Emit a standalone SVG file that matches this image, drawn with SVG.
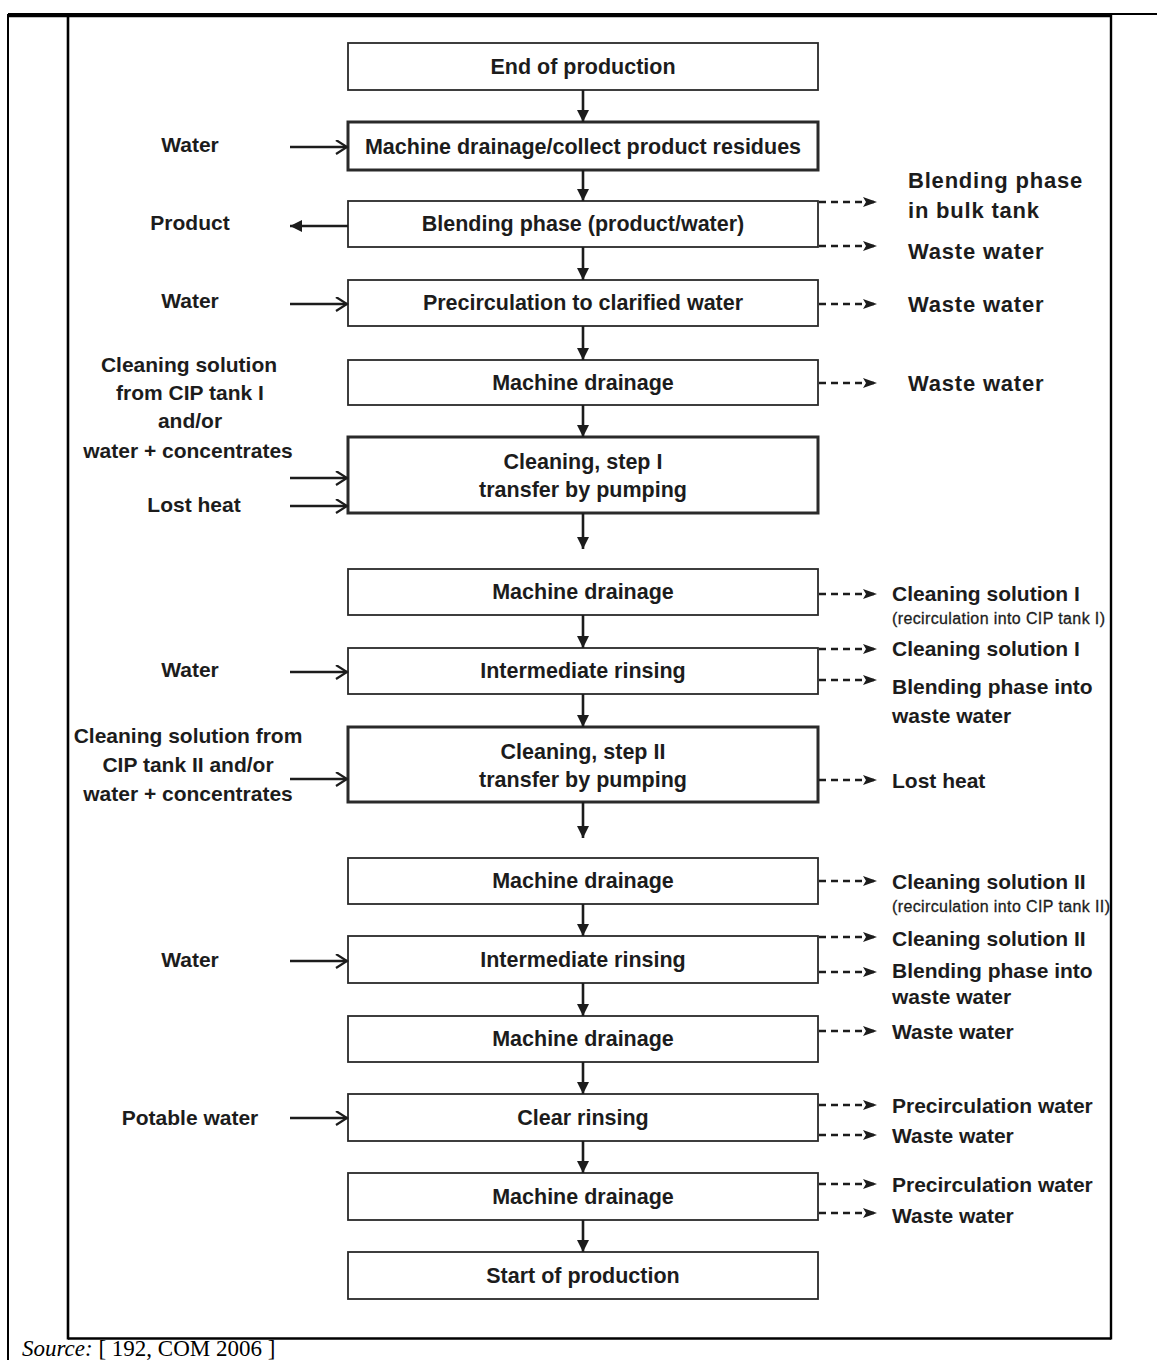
<svg xmlns="http://www.w3.org/2000/svg" width="1157" height="1360" viewBox="0 0 1157 1360">
<style>
.box{fill:#fff;stroke:#2a2a2a;stroke-width:1.8}
.thick{stroke-width:3}
text{font-family:"Liberation Sans",Arial,sans-serif;fill:#1c1c1c}
.c{font-size:21.5px;font-weight:bold;text-anchor:middle}
.l{font-size:21px;font-weight:bold;text-anchor:middle}
.r{font-size:21px;font-weight:bold}
.ru{font-size:22px;font-weight:bold;letter-spacing:0.8px}
.s{font-size:16px;stroke:#1c1c1c;stroke-width:0.3}
.src{font-family:"Liberation Serif","Times New Roman",serif;font-size:23px;fill:#000}
.down{stroke:#1c1c1c;stroke-width:2.6;fill:none}
.in{stroke:#1c1c1c;stroke-width:2.4;fill:none}
.out{stroke:#1c1c1c;stroke-width:2.4;fill:none;stroke-dasharray:7 5}
.frame{stroke:#000;fill:none}
</style>
<defs>
<marker id="ad" markerUnits="userSpaceOnUse" markerWidth="14" markerHeight="14" refX="12" refY="6" orient="auto">
<path d="M0,0 L12,6 L0,12 z" fill="#1c1c1c"/>
</marker>
<marker id="ai" markerUnits="userSpaceOnUse" markerWidth="14" markerHeight="16" refX="12" refY="7" orient="auto">
<path d="M1,0 L12,7 L1,14" fill="none" stroke="#1c1c1c" stroke-width="2.2"/>
</marker>
<marker id="ao" markerUnits="userSpaceOnUse" markerWidth="16" markerHeight="12" refX="14" refY="5" orient="auto">
<path d="M0,0 L14,5 L0,10 L3,5 z" fill="#1c1c1c"/>
</marker>
</defs>
<rect width="1157" height="1360" fill="#fff"/>
<g id="frame">
<line class="frame" x1="8" y1="14" x2="1157" y2="14" stroke-width="2"/>
<line class="frame" x1="8" y1="14" x2="8" y2="1360" stroke-width="2"/>
<line class="frame" x1="8" y1="15.5" x2="1111" y2="15.5" stroke-width="3.5"/>
<line class="frame" x1="68" y1="14" x2="68" y2="1339.5" stroke-width="2.6"/>
<line class="frame" x1="1111" y1="14" x2="1111" y2="1339.5" stroke-width="2.4"/>
<line class="frame" x1="68" y1="1338.5" x2="1111" y2="1338.5" stroke-width="2.6"/>
</g>
<g id="n1"><rect class="box" x="348" y="43" width="470" height="47"/><text class="c" x="583" y="74">End of production</text></g>
<g id="n2"><rect class="box thick" x="348" y="122" width="470" height="48"/><text class="c" x="583" y="154">Machine drainage/collect product residues</text></g>
<g id="n3"><rect class="box" x="348" y="201" width="470" height="46"/><text class="c" x="583" y="231">Blending phase (product/water)</text></g>
<g id="n4"><rect class="box" x="348" y="280" width="470" height="46"/><text class="c" x="583" y="310">Precirculation to clarified water</text></g>
<g id="n5"><rect class="box" x="348" y="360" width="470" height="45"/><text class="c" x="583" y="390">Machine drainage</text></g>
<g id="n6"><rect class="box thick" x="348" y="437" width="470" height="76"/><text class="c" x="583" y="469">Cleaning, step I</text><text class="c" x="583" y="497">transfer by pumping</text></g>
<g id="n7"><rect class="box" x="348" y="569" width="470" height="46"/><text class="c" x="583" y="599">Machine drainage</text></g>
<g id="n8"><rect class="box" x="348" y="648" width="470" height="46"/><text class="c" x="583" y="678">Intermediate rinsing</text></g>
<g id="n9"><rect class="box thick" x="348" y="727" width="470" height="75"/><text class="c" x="583" y="759">Cleaning, step II</text><text class="c" x="583" y="787">transfer by pumping</text></g>
<g id="n10"><rect class="box" x="348" y="858" width="470" height="46"/><text class="c" x="583" y="888">Machine drainage</text></g>
<g id="n11"><rect class="box" x="348" y="936" width="470" height="47"/><text class="c" x="583" y="967">Intermediate rinsing</text></g>
<g id="n12"><rect class="box" x="348" y="1016" width="470" height="46"/><text class="c" x="583" y="1046">Machine drainage</text></g>
<g id="n13"><rect class="box" x="348" y="1094" width="470" height="47"/><text class="c" x="583" y="1125">Clear rinsing</text></g>
<g id="n14"><rect class="box" x="348" y="1173" width="470" height="47"/><text class="c" x="583" y="1204">Machine drainage</text></g>
<g id="n15"><rect class="box" x="348" y="1252" width="470" height="47"/><text class="c" x="583" y="1283">Start of production</text></g>
<g id="inputs">
<text class="l" x="190" y="152">Water</text>
<text class="l" x="190" y="230">Product</text>
<text class="l" x="190" y="308">Water</text>
<text class="l" x="189" y="372">Cleaning solution</text>
<text class="l" x="190" y="400">from CIP tank I</text>
<text class="l" x="190" y="428">and/or</text>
<text class="l" x="188" y="458">water + concentrates</text>
<text class="l" x="194" y="512">Lost heat</text>
<text class="l" x="190" y="677">Water</text>
<text class="l" x="188" y="743">Cleaning solution from</text>
<text class="l" x="188" y="772">CIP tank II and/or</text>
<text class="l" x="188" y="801">water + concentrates</text>
<text class="l" x="190" y="967">Water</text>
<text class="l" x="190" y="1125">Potable water</text>
</g>
<g id="outputs">
<text class="ru" x="908" y="188">Blending phase</text>
<text class="ru" x="908" y="218">in bulk tank</text>
<text class="ru" x="908" y="259">Waste water</text>
<text class="ru" x="908" y="312">Waste water</text>
<text class="ru" x="908" y="391">Waste water</text>
<text class="r" x="892" y="601">Cleaning solution I</text>
<text class="s" x="892" y="624" textLength="213">(recirculation into CIP tank I)</text>
<text class="r" x="892" y="656">Cleaning solution I</text>
<text class="r" x="892" y="694">Blending phase into</text>
<text class="r" x="892" y="723">waste water</text>
<text class="r" x="892" y="788">Lost heat</text>
<text class="r" x="892" y="889">Cleaning solution II</text>
<text class="s" x="892" y="912" textLength="218">(recirculation into CIP tank II)</text>
<text class="r" x="892" y="946">Cleaning solution II</text>
<text class="r" x="892" y="978">Blending phase into</text>
<text class="r" x="892" y="1004">waste water</text>
<text class="r" x="892" y="1039">Waste water</text>
<text class="r" x="892" y="1113">Precirculation water</text>
<text class="r" x="892" y="1143">Waste water</text>
<text class="r" x="892" y="1192">Precirculation water</text>
<text class="r" x="892" y="1223">Waste water</text>
</g>
<g id="connectors">
<path class="down" d="M583,90 V122" marker-end="url(#ad)"/>
<path class="down" d="M583,170 V201" marker-end="url(#ad)"/>
<path class="down" d="M583,247 V280" marker-end="url(#ad)"/>
<path class="down" d="M583,326 V360" marker-end="url(#ad)"/>
<path class="down" d="M583,405 V437" marker-end="url(#ad)"/>
<path class="down" d="M583,513 V549" marker-end="url(#ad)"/>
<path class="down" d="M583,615 V648" marker-end="url(#ad)"/>
<path class="down" d="M583,694 V727" marker-end="url(#ad)"/>
<path class="down" d="M583,802 V838" marker-end="url(#ad)"/>
<path class="down" d="M583,904 V936" marker-end="url(#ad)"/>
<path class="down" d="M583,983 V1016" marker-end="url(#ad)"/>
<path class="down" d="M583,1062 V1094" marker-end="url(#ad)"/>
<path class="down" d="M583,1141 V1173" marker-end="url(#ad)"/>
<path class="down" d="M583,1220 V1252" marker-end="url(#ad)"/>
<path class="in" d="M290,147 H347" marker-end="url(#ai)"/>
<path class="in" d="M348,226 H290" marker-end="url(#ad)"/>
<path class="in" d="M290,304 H347" marker-end="url(#ai)"/>
<path class="in" d="M290,478 H347" marker-end="url(#ai)"/>
<path class="in" d="M290,506 H347" marker-end="url(#ai)"/>
<path class="in" d="M290,672 H347" marker-end="url(#ai)"/>
<path class="in" d="M290,779 H347" marker-end="url(#ai)"/>
<path class="in" d="M290,961 H347" marker-end="url(#ai)"/>
<path class="in" d="M290,1118 H347" marker-end="url(#ai)"/>
<path class="out" d="M819,202 H877" marker-end="url(#ao)"/>
<path class="out" d="M819,246 H877" marker-end="url(#ao)"/>
<path class="out" d="M819,304 H877" marker-end="url(#ao)"/>
<path class="out" d="M819,383 H877" marker-end="url(#ao)"/>
<path class="out" d="M819,594 H877" marker-end="url(#ao)"/>
<path class="out" d="M819,649 H877" marker-end="url(#ao)"/>
<path class="out" d="M819,680 H877" marker-end="url(#ao)"/>
<path class="out" d="M819,780 H877" marker-end="url(#ao)"/>
<path class="out" d="M819,881 H877" marker-end="url(#ao)"/>
<path class="out" d="M819,937 H877" marker-end="url(#ao)"/>
<path class="out" d="M819,972 H877" marker-end="url(#ao)"/>
<path class="out" d="M819,1031 H877" marker-end="url(#ao)"/>
<path class="out" d="M819,1105 H877" marker-end="url(#ao)"/>
<path class="out" d="M819,1135 H877" marker-end="url(#ao)"/>
<path class="out" d="M819,1184 H877" marker-end="url(#ao)"/>
<path class="out" d="M819,1213 H877" marker-end="url(#ao)"/>
</g>
<g id="source"><text class="src" x="22" y="1356"><tspan font-style="italic">Source:</tspan> [ 192, COM 2006 ]</text></g>
</svg>
